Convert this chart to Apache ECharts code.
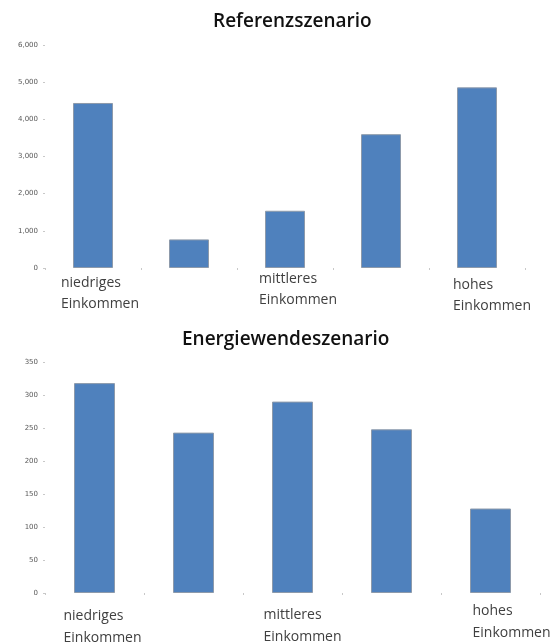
<!DOCTYPE html>
<html>
<head>
<meta charset="utf-8">
<script src="https://cdn.jsdelivr.net/npm/echarts@6/dist/echarts.min.js"></script>
<style>
html,body{margin:0;padding:0;background:#fff;}
#c{width:555px;height:642px;}
</style>
</head>
<body>
<div id="c"></div>
<script>
const categories = ['niedriges\nEinkommen', '', 'mittleres\nEinkommen', '', 'hohes\nEinkommen'];
const titleTop = 'Referenzszenario';
const titleBottom = 'Energiewendeszenario';
const valuesReferenz = [4440, 770, 1540, 3600, 4860];
const valuesEnergiewende = [318, 243, 290, 248, 128];
const ticksTop = { min: 0, max: 6000, interval: 1000 };
const ticksBottom = { min: 0, max: 350, interval: 50 };

// label layout tweaks: box width (text left edge = center - width/2) and top padding
const boxTop = [64, 10, 52, 10, 48];
const padTopV = [4, 0, 0, 0, 6];
const boxBottom = [62, 10, 58, 10, 36];
const padBottomV = [5, 0, 4, 0, 0];

const BAR = '#4F81BD';
const chart = echarts.init(document.getElementById('c'), null, {renderer:'canvas'});

function xAxis(gridIndex, widths, pads, margin, lh){
  const rich = {};
  widths.forEach((w,i)=>{
    rich['t'+i] = {width:w, align:'left', fontFamily:'Open Sans', fontSize:14, color:'#404040', lineHeight:lh};
  });
  return {
    type:'category', gridIndex,
    data: categories.map((c,i)=>({value:c, textStyle:{padding:[pads[i],0,0,0]}})),
    axisLine:{show:false},
    axisTick:{show:true, length:2, lineStyle:{color:'#c8c8c8', width:1}},
    axisLabel:{interval:0, margin, verticalAlign:'top', rich,
      formatter:(v,i)=> v ? v.split('\n').map(s=>'{t'+i+'|'+s+'}').join('\n') : ''},
    splitLine:{show:false}
  };
}
function yAxis(gridIndex, t){
  return {
    type:'value', gridIndex, min:t.min, max:t.max, interval:t.interval,
    axisLine:{show:false},
    axisTick:{show:true, length:2, lineStyle:{color:'#c8c8c8', width:1}},
    axisLabel:{fontFamily:'DejaVu Sans', fontSize:7, color:'#595959', margin:7,
      formatter:v=>v.toLocaleString('en-US')},
    splitLine:{show:false}
  };
}
function bars(xi, data, w){
  return {
    type:'bar', xAxisIndex:xi, yAxisIndex:xi, data, barWidth:w,
    itemStyle:{color:BAR, borderColor:'#8d9aab', borderWidth:1},
    silent:true
  };
}

chart.setOption({
  animation:false,
  title:[
    {text:titleTop, left:213, top:12, padding:0, textStyle:{fontFamily:'Open Sans', fontWeight:600, fontSize:19, color:'#111'}},
    {text:titleBottom, left:182, top:330, padding:0, textStyle:{fontFamily:'Open Sans', fontWeight:600, fontSize:19, color:'#111'}}
  ],
  grid:[
    {left:45, top:45, width:480, height:223, outerBoundsMode:'none', containLabel:false},
    {left:45, top:362, width:495, height:231, outerBoundsMode:'none', containLabel:false}
  ],
  xAxis:[xAxis(0, boxTop, padTopV, 1, 21), xAxis(1, boxBottom, padBottomV, 7, 22)],
  yAxis:[yAxis(0, ticksTop), yAxis(1, ticksBottom)],
  series:[bars(0, valuesReferenz, 40), bars(1, valuesEnergiewende, 41)]
});
</script>
</body>
</html>
